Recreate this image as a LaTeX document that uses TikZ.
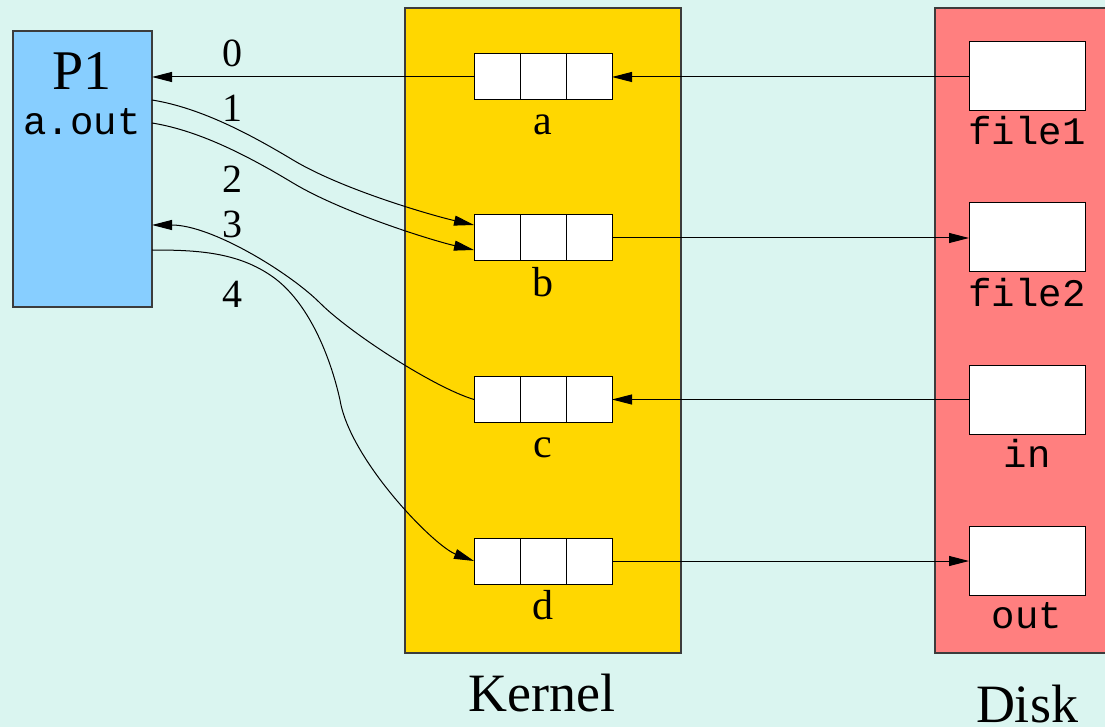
\documentclass[tikz,border=0pt]{standalone}
\usepackage{fontspec}
\newfontfamily\tnr{Liberation Serif}
\newfontfamily\cour{Liberation Mono}
\usetikzlibrary{arrows.meta,calc}
\definecolor{bgc}{RGB}{218,245,240}
\definecolor{pblue}{RGB}{135,206,255}
\definecolor{kgold}{RGB}{255,215,0}
\definecolor{dred}{RGB}{255,127,127}
\definecolor{edge}{RGB}{60,60,60}
\begin{document}
\begin{tikzpicture}[x=1pt,y=-1pt,
  box/.style={draw=edge,line width=1.2pt,inner sep=0pt,outer sep=0pt,anchor=north west},
  buf/.style={draw=black,line width=1pt,fill=white,minimum width=138pt,minimum height=46pt,inner sep=0pt,outer sep=0pt},
  file/.style={draw=black,line width=1pt,fill=white,minimum width=116pt,minimum height=69pt,inner sep=0pt,outer sep=0pt},
  arr/.style={line width=1pt,-{Triangle[length=20pt,width=10pt]}},
  num/.style={font=\tnr\fontsize{40}{48}\selectfont,anchor=base,inner sep=0pt},
  lbl/.style={font=\tnr\fontsize{42}{50}\selectfont,anchor=base,inner sep=0pt},
  big/.style={font=\tnr\fontsize{54}{64}\selectfont,anchor=base,inner sep=0pt},
  mono/.style={font=\cour\fontsize{39}{46}\selectfont,anchor=base,inner sep=0pt}
]
\clip (0,0) rectangle (1105,727);
\fill[bgc] (0,0) rectangle (1105,727);

% containers
\node[box,fill=pblue,minimum width=139pt,minimum height=276pt] (P1) at (13,31) {};
\node[box,fill=kgold,minimum width=276pt,minimum height=645pt] (K) at (405,8) {};
\node[box,fill=dred,minimum width=190pt,minimum height=645pt] (D) at (935,8) {};

% process labels
\node[font=\tnr\fontsize{56}{66}\selectfont,anchor=base,inner sep=0pt] (p1t) at (82,90) {P1};
\node[mono] (aout) at (82,135) {a.out};

% kernel buffers
\node[buf] (ba) at (543,77) {};
\node[buf] (bb) at (543,238) {};
\node[buf] (bc) at (543,399.5) {};
\node[buf] (bd) at (543,561) {};
\foreach \b in {ba,bb,bc,bd}{
  \draw[line width=1pt] ($(\b.north west)!1/3!(\b.north east)$) -- ($(\b.south west)!1/3!(\b.south east)$);
  \draw[line width=1pt] ($(\b.north west)!2/3!(\b.north east)$) -- ($(\b.south west)!2/3!(\b.south east)$);
}
\node[lbl] (la) at (543,135) {a};
\node[lbl] (lb) at (543,296) {b};
\node[lbl] (lc) at (543,457) {c};
\node[lbl] (ld) at (543,619) {d};

% disk files
\node[file] (f1) at (1027,76.5) {};
\node[file] (f2) at (1027,237.5) {};
\node[file] (f3) at (1027,399.5) {};
\node[file] (f4) at (1027,561) {};
\node[mono] (lf1) at (1027,145) {file1};
\node[mono] (lf2) at (1027,306) {file2};
\node[mono] (lf3) at (1027,467) {in};
\node[mono] (lf4) at (1027,628) {out};

% titles
\node[big] (kt) at (542,711) {Kernel};
\node[big] (dt) at (1027,722) {Disk};

% fd numbers
\node[num] (n0) at (232,67) {0};
\node[num] (n1) at (232,122) {1};
\node[num] (n2) at (232,193) {2};
\node[num] (n3) at (232,238) {3};
\node[num] (n4) at (232,307) {4};

% straight connectors
\draw[arr] (ba.west) -- (ba.west -| P1.east);
\draw[arr] (f1.west |- ba.east) -- (ba.east);
\draw[arr] (bb.east) -- (bb.east -| f2.west);
\draw[arr] (bc.east -| f3.west) -- (bc.east);
\draw[arr] (bd.east) -- (bd.east -| f4.west);

% curved connectors
\coordinate (o1) at ($(P1.north east)+(0,69)$);
\coordinate (o2) at ($(P1.north east)+(0,92)$);
\coordinate (o3) at ($(P1.north east)+(0,194)$);
\coordinate (o4) at ($(P1.north east)+(0,219)$);
\coordinate (i1) at ($(bb.west)+(0,-13)$);
\coordinate (i2) at ($(bb.west)+(0,12)$);
\coordinate (m1) at (293,160);
\coordinate (m2) at (293,183);
\coordinate (m3) at (320,303);
\coordinate (m4a) at (273,277);
\coordinate (m4) at (340,400);

\draw[arr] (o1) .. controls +(50,8) and +(-40,-24) .. (m1) .. controls +(50,30) and +(-40,-9) .. (i1);
\draw[arr] (o2) .. controls +(50,8) and +(-40,-24) .. (m2) .. controls +(50,30) and +(-40,-9) .. (i2);
\draw[arr] (bc.west) .. controls +(-40,-12) and +(30,30) .. (m3) .. controls +(-30,-30) and +(60,0) .. (o3);
\draw[arr] (o4) .. controls +(45,0) and +(-35,-25) .. (m4a) .. controls +(35,25) and +(-10,-45) .. (m4) .. controls +(10,60) and +(-40,-15) .. (bd.west);
\end{tikzpicture}
\end{document}
